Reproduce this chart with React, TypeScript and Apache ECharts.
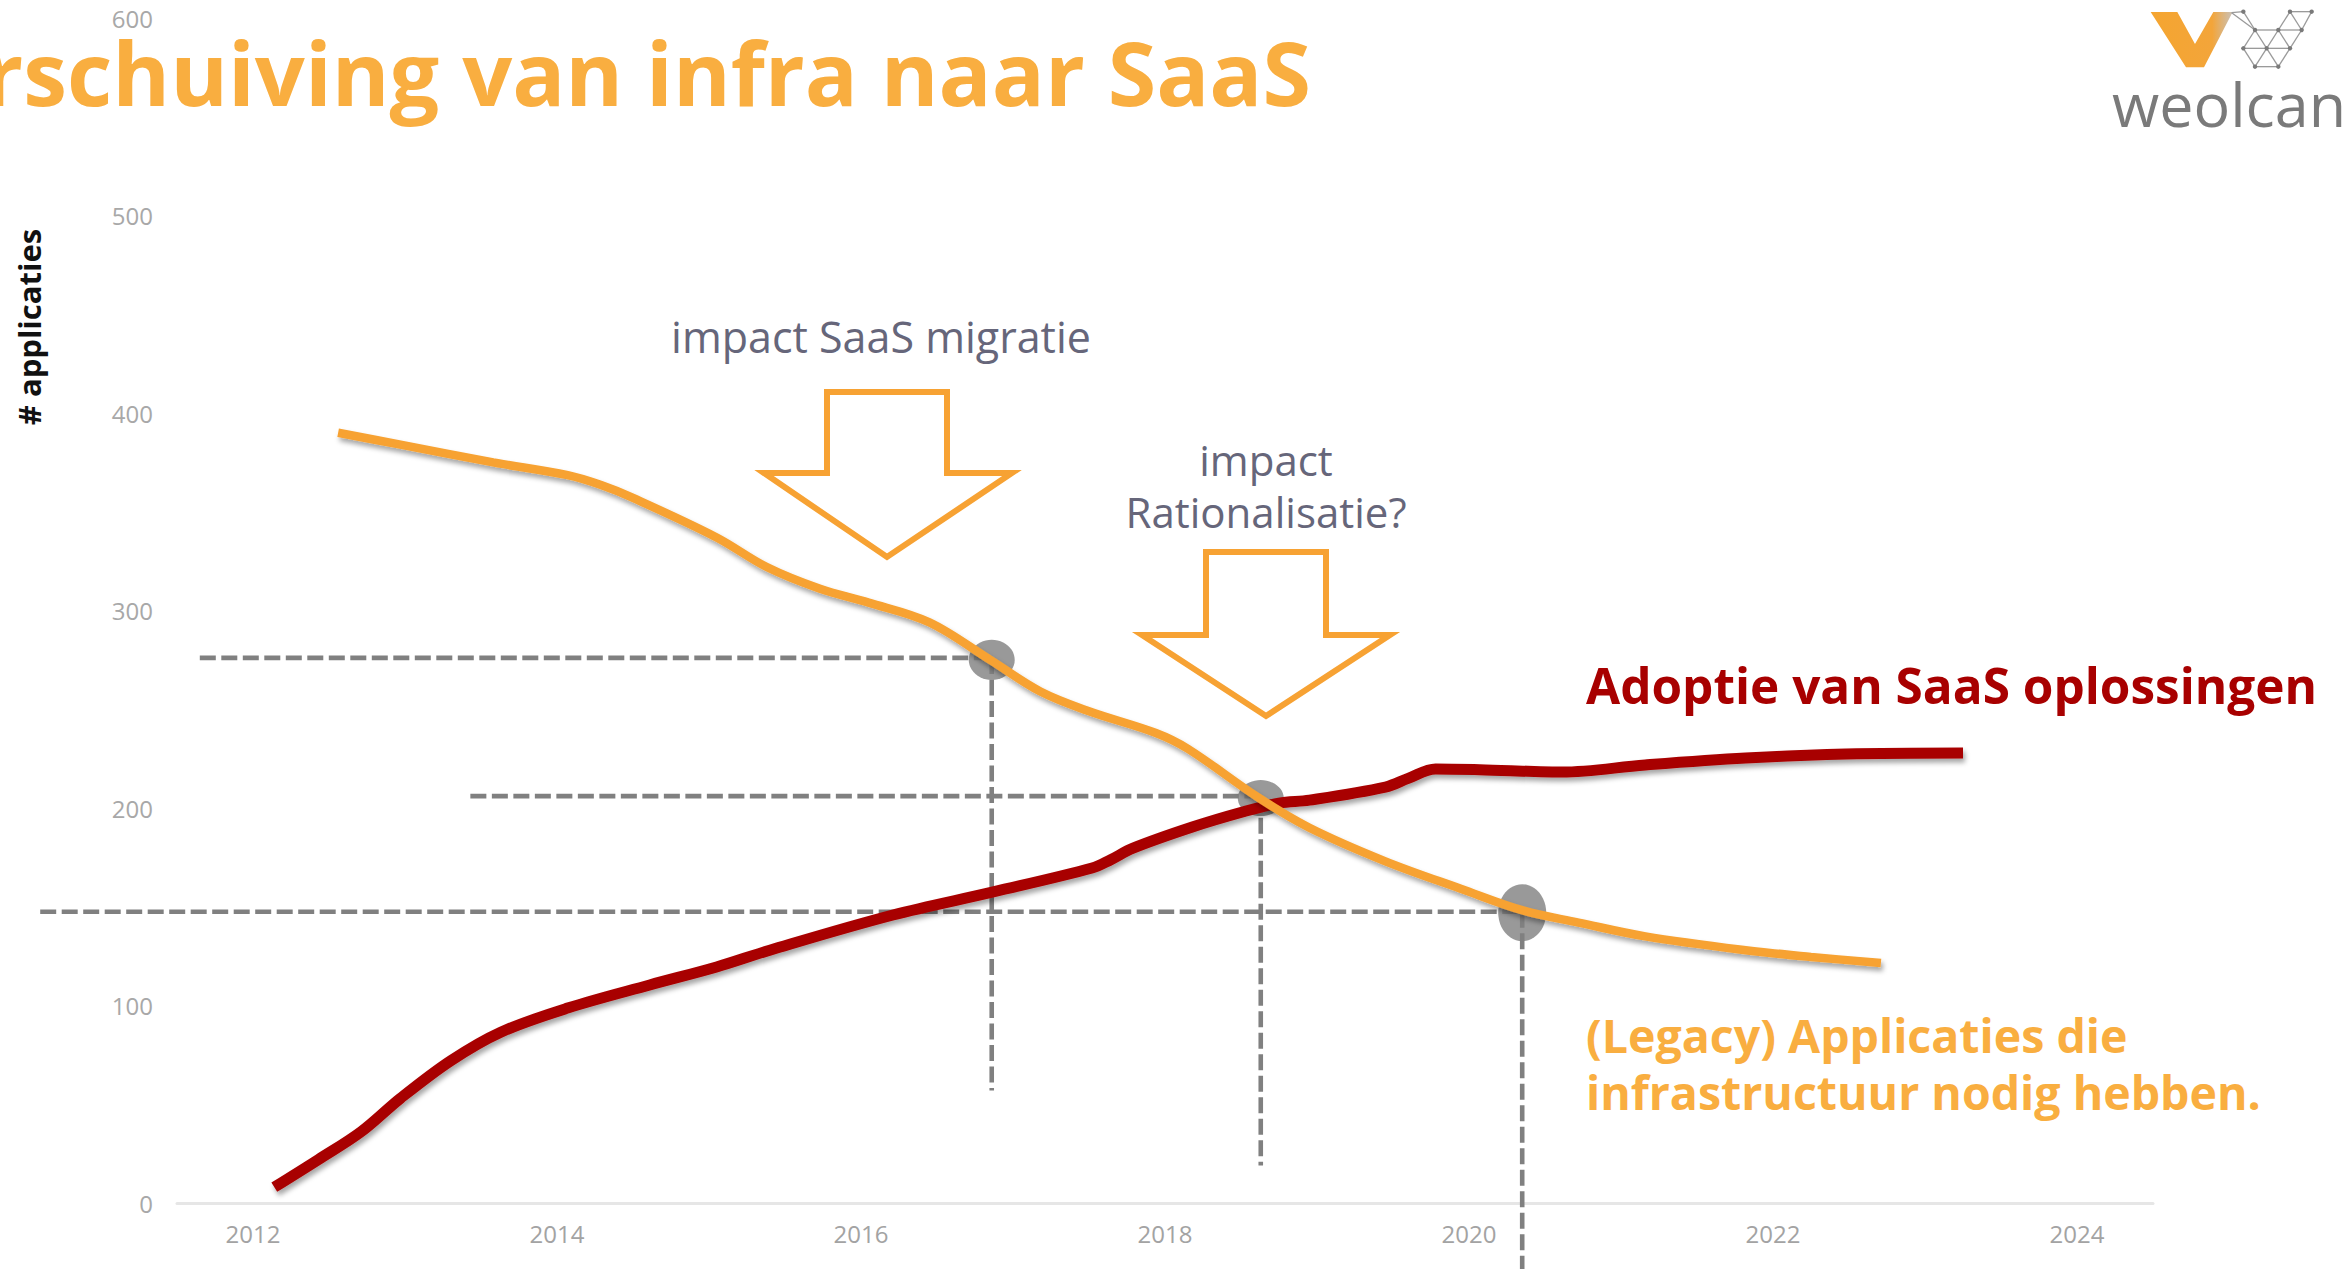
import React, { useEffect, useRef } from "react";
import * as echarts from "echarts";

// ---- data ----
const legacyYears = [2012.56, 2012.97, 2013.58, 2014.07, 2014.29, 2014.5, 2015.05, 2015.38, 2015.73, 2016.05, 2016.45, 2016.85, 2017.18, 2017.5, 2017.94, 2018.15, 2018.62, 2018.95, 2019.45, 2019.95, 2020.36, 2020.72, 2021.16, 2021.82, 2022.25, 2022.71];
const legacyValues = [390, 384, 375, 368.5, 363.5, 357, 337, 322, 311, 304, 294, 275, 259, 249, 238, 230, 205, 190, 173, 159, 148, 142, 135, 128, 124.6, 121.5];

const saasYears = [2012.14, 2012.43, 2012.71, 2012.97, 2013.3, 2013.63, 2014.07, 2014.61, 2015.05, 2015.4, 2016.21, 2016.87, 2017.52, 2017.64, 2017.79, 2018.18, 2018.51, 2018.75, 2018.95, 2019.45, 2019.6, 2019.78, 2020.07, 2020.61, 2021.16, 2021.82, 2022.48, 2023.25];
const saasValues = [8, 22, 36, 53, 72, 86.5, 98.7, 110.4, 119.5, 128, 145.8, 157.5, 169.6, 173.7, 179.7, 190.4, 198, 202.5, 204, 210.6, 215, 219.8, 219.4, 218.2, 221.8, 225.3, 227.3, 227.8];

const xTickLabels = [2012, 2014, 2016, 2018, 2020, 2022, 2024];
const xRange = [2011.5, 2024.5];
const yRange = [0, 600];
const yStep = 100;

const markerYears = [2016.86, 2018.63, 2020.35];
const markerValues = [275, 205, 147];
const guideValues = [276, 206, 147.5];
const guideStartYears = [2011.65, 2013.43, 2010.6];
const guideEndValues = [57, 19, -34];

const titleText = "Verschuiving van infra naar SaaS";
const yName = "# applicaties";
const annot1 = "impact SaaS migratie";
const annot2a = "impact";
const annot2b = "Rationalisatie?";
const saasLabel = "Adoptie van SaaS oplossingen";
const legacyLabel1 = "(Legacy) Applicaties die";
const legacyLabel2 = "infrastructuur nodig hebben.";
const logoText = "weolcan";

// ---- styles ----
const ORANGE = "#F7A233";
const TITLE_ORANGE = "#F9AE40";
const RED = "#A80000";
const GRAY = "#808080";
const ANNOT = "#66667A";
const markerSizes = [[46, 40], [46, 36], [48, 57]];

function zip(xs: number[], ys: number[]) {
  return xs.map((x, i) => [x, ys[i]]);
}

function arrow(points: number[][]) {
  return {
    type: "polygon",
    shape: { points },
    style: { fill: "#ffffff", stroke: ORANGE, lineWidth: 6, lineJoin: "miter" },
    z: 10,
  };
}

function logoGraphics() {
  const ox = 2080;
  const s = 1 / 3;
  const P = (x: number, y: number) => [ox + x * s, y * s];
  const nodes: Record<string, number[]> = {
    v: P(455, 38),
    a0: P(490, 35), b0: P(630, 35), c0: P(695, 35),
    a1: P(525, 90), b1: P(595, 90), c1: P(665, 90),
    a2: P(490, 145), b2: P(560, 145), c2: P(630, 145),
    a3: P(525, 200), b3: P(595, 200),
  };
  const edges = [
    ["v", "a0"], ["b0", "c0"], ["a1", "b1"], ["b1", "c1"], ["a2", "b2"], ["b2", "c2"], ["a3", "b3"],
    ["a0", "a1"], ["v", "a1"], ["b0", "b1"], ["b0", "c1"], ["c0", "c1"],
    ["a1", "a2"], ["a1", "b2"], ["b1", "b2"], ["b1", "c2"], ["c1", "c2"],
    ["a2", "a3"], ["b2", "a3"], ["b2", "b3"], ["c2", "b3"],
  ];
  const out: any[] = [];
  out.push({
    type: "polygon",
    shape: { points: [P(212, 36), P(292, 36), P(345, 132), P(400, 36), P(458, 36), P(372, 202), P(318, 202)] },
    style: {
      fill: new echarts.graphic.LinearGradient(0, 0, 1, 0, [
        { offset: 0, color: "#F5A530" },
        { offset: 0.75, color: "#F3A53A" },
        { offset: 1, color: "#C9C1B8" },
      ]),
    },
  });
  edges.forEach(([a, b]) => {
    out.push({
      type: "line",
      shape: { x1: nodes[a][0], y1: nodes[a][1], x2: nodes[b][0], y2: nodes[b][1] },
      style: { stroke: "#9a9a9a", lineWidth: 1.3 },
    });
  });
  Object.keys(nodes).forEach((k) => {
    if (k === "v") return;
    out.push({ type: "circle", shape: { cx: nodes[k][0], cy: nodes[k][1], r: 2.2 }, style: { fill: "#7a7a7a" } });
  });
  out.push({
    type: "text",
    x: 2112,
    y: 103,
    style: { text: logoText, fill: "#7a7a7a", fontSize: 61, fontFamily: "Open Sans", fontWeight: 400, align: "left", verticalAlign: "middle" },
  });
  return out;
}

export default function App() {
  const ref = useRef<HTMLDivElement>(null);

  useEffect(() => {
    if (!ref.current) return;
    const chart = echarts.init(ref.current, undefined, { renderer: "svg" });

    const shadow = { shadowColor: "rgba(0,0,0,0.35)", shadowBlur: 5, shadowOffsetX: 2, shadowOffsetY: 4 };

    chart.setOption({
      animation: false,
      backgroundColor: "#ffffff",
      grid: { left: 177, right: 196, top: 18, bottom: 66, containLabel: false },
      xAxis: {
        type: "value",
        min: xRange[0],
        max: xRange[1],
        interval: 0.5,
        axisLine: { show: true, lineStyle: { color: "#e6e6e6", width: 3 } },
        axisTick: { show: false },
        splitLine: { show: false },
        axisLabel: {
          color: "#a3a3a3",
          fontSize: 24,
          fontFamily: "Open Sans",
          margin: 18,
          formatter: (v: number) => (xTickLabels.indexOf(Math.round(v * 100) / 100) >= 0 ? String(v) : ""),
        },
      },
      yAxis: {
        type: "value",
        min: yRange[0],
        max: yRange[1],
        interval: yStep,
        axisLine: { show: false },
        axisTick: { show: false },
        splitLine: { show: false },
        axisLabel: { color: "#a8a8a8", fontSize: 24, fontFamily: "Open Sans", margin: 24 },
      },
      series: [
        {
          type: "scatter",
          data: markerYears.map((yr, i) => ({ value: [yr, markerValues[i]], symbolSize: markerSizes[i] })),
          symbol: "circle",
          itemStyle: { color: GRAY },
          silent: true,
          z: 2,
        },
        {
          name: saasLabel,
          type: "line",
          data: zip(saasYears, saasValues),
          smooth: 0.35,
          symbol: "none",
          z: 3,
          lineStyle: { color: RED, width: 11, cap: "butt", ...shadow },
        },
        {
          name: legacyLabel1 + " " + legacyLabel2,
          type: "line",
          data: zip(legacyYears, legacyValues),
          smooth: 0.35,
          symbol: "none",
          z: 4,
          lineStyle: { color: ORANGE, width: 8.5, cap: "butt", ...shadow },
        },
      ],
    });

    // dashed guide lines, positioned through the chart's own scales
    const guides: any[] = [];
    const px = (x: number, y: number) => chart.convertToPixel({ gridIndex: 0 }, [x, y]) as number[];
    markerYears.forEach((yr, i) => {
      const a = px(guideStartYears[i], guideValues[i]);
      const b = px(yr, guideValues[i]);
      const c = px(yr, guideEndValues[i]);
      const dash = { stroke: GRAY, lineWidth: 4.6, lineDash: [16, 5.5] };
      guides.push({ type: "line", shape: { x1: a[0], y1: a[1], x2: b[0], y2: b[1] }, style: dash, z: 1, silent: true });
      guides.push({ type: "line", shape: { x1: b[0], y1: b[1], x2: c[0], y2: c[1] }, style: dash, z: 1, silent: true });
    });

    chart.setOption({
      graphic: [
        ...guides,
        {
          type: "text",
          x: 1311,
          y: 72,
          style: { text: titleText, fill: TITLE_ORANGE, fontSize: 88, fontWeight: "bold", fontFamily: "Open Sans", align: "right", verticalAlign: "middle" },
          z: 20,
        },
        {
          type: "text",
          x: 29,
          y: 327,
          rotation: Math.PI / 2,
          style: { text: yName, fill: "#111111", fontSize: 31, fontWeight: "bold", fontFamily: "Open Sans", align: "center", verticalAlign: "middle" },
          z: 10,
        },
        {
          type: "text",
          x: 881,
          y: 336,
          style: { text: annot1, fill: ANNOT, fontSize: 43, fontFamily: "Open Sans", align: "center", verticalAlign: "middle" },
          z: 10,
        },
        {
          type: "text",
          x: 1266,
          y: 485,
          style: {
            text: annot2a + "\n" + annot2b,
            fill: ANNOT,
            fontSize: 42,
            lineHeight: 52,
            fontFamily: "Open Sans",
            align: "center",
            verticalAlign: "middle",
          },
          z: 10,
        },
        arrow([[827, 392], [947, 392], [947, 473], [1012, 473], [887, 557], [764, 473], [827, 473]]),
        arrow([[1206, 552], [1326, 552], [1326, 635], [1390, 635], [1266, 716], [1142, 635], [1206, 635]]),
        {
          type: "text",
          x: 1586,
          y: 685,
          style: { text: saasLabel, fill: RED, fontSize: 49.5, fontWeight: "bold", fontFamily: "Open Sans", align: "left", verticalAlign: "middle" },
          z: 10,
        },
        {
          type: "text",
          x: 1586,
          y: 1063.5,
          style: {
            text: legacyLabel1 + "\n" + legacyLabel2,
            fill: TITLE_ORANGE,
            fontSize: 46.5,
            lineHeight: 57,
            fontWeight: "bold",
            fontFamily: "Open Sans",
            align: "left",
            verticalAlign: "middle",
          },
          z: 10,
        },
        ...logoGraphics().map((g) => ({ ...g, z: 10 })),
      ],
    });

    return () => chart.dispose();
  }, []);

  return (
    <div
      ref={ref}
      style={{ position: "fixed", left: 0, top: 0, width: "2349px", height: "1269px", background: "#ffffff" }}
    />
  );
}
